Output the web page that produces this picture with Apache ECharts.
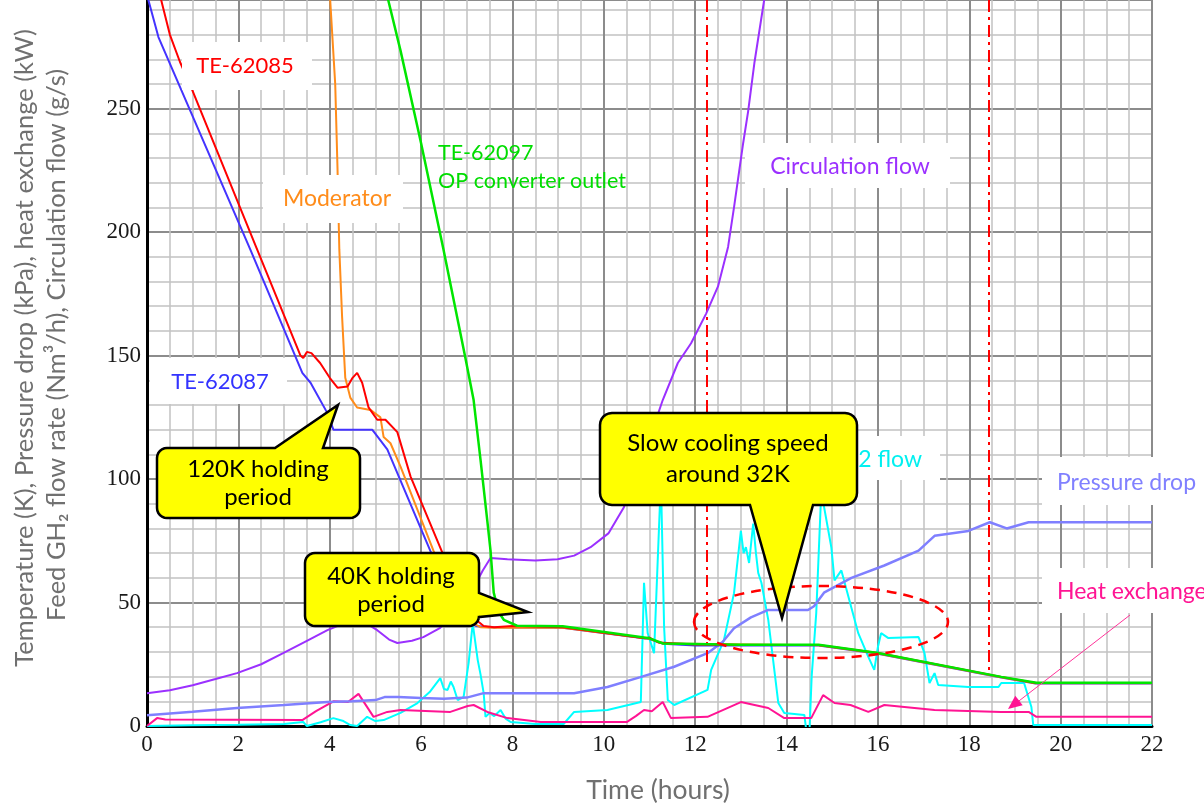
<!DOCTYPE html>
<html><head><meta charset="utf-8">
<script src="https://cdn.jsdelivr.net/npm/echarts@6/dist/echarts.min.js"></script>
<style>html,body{margin:0;padding:0;background:#fff}#c{width:1204px;height:804px}</style>
</head><body><div id="c"></div>
<script>
// ---- data: [time (h), value] ----
const te62085 = [[0.2,300],[0.31,294],[0.5,280],[0.72,269],[0.98,258],[2.41,193],[3.36,150],[3.42,149],[3.5,151.5],[3.6,151],[3.79,147],[4.0,141],[4.17,137],[4.39,137.5],[4.5,141],[4.6,143],[4.71,139],[4.85,129],[5.04,124],[5.22,124],[5.48,119],[5.77,101],[6.47,70],[7.0,50],[7.2,43],[7.37,40.5],[7.6,40],[8.0,40.5],[9.1,40],[10.9,35.5],[11.0,35.8],[11.2,33.8],[12.0,33],[13,32.8],[14.7,32.8],[16,29.6],[18.7,19.9],[19.45,17.4],[22,17.4]];
const te62087 = [[0,300],[0.03,294],[0.25,279],[2.26,193],[3.4,143],[3.58,139],[3.94,127],[4.08,120],[4.93,120],[5.26,112],[6.2,71],[6.6,55],[7.0,43],[7.2,40.5],[7.5,40],[9.1,39.8],[11.0,35.2],[11.3,33.3],[12,32.6],[14.7,32.6],[16,29.3],[18.7,19.6],[19.45,17.2],[22,17.2]];
const moderator = [[4.0,300],[4.01,294],[4.12,260],[4.17,226],[4.21,193],[4.27,166],[4.34,141],[4.45,133],[4.6,129],[4.89,128],[5.11,125],[5.18,117],[5.33,114.5],[5.55,105],[6.27,71],[6.8,50],[7.1,42],[7.3,40],[7.6,39.8],[9.1,39.8],[11,35.3],[11.3,33.4],[14.7,32.7],[16,29.4],[18.7,19.7],[19.45,17.3],[22,17.3]];
const te62097 = [[5.2,300],[5.28,294],[5.55,273.5],[6.0,236],[6.49,193],[6.97,149],[7.15,132],[7.3,108],[7.45,83],[7.52,71],[7.59,54],[7.7,46],[7.81,43],[8.1,40.6],[9.1,40.4],[11,35.5],[11.3,33.4],[13,32.9],[14.7,32.9],[16,29.6],[18.7,19.9],[19.47,17.5],[22,17.5]];
const circulationFlow = [[0,13.3],[0.5,14.5],[1,16.5],[1.5,19],[1.97,21.4],[2.5,25],[2.98,29.5],[3.5,34.5],[3.95,38.8],[4.3,41.5],[4.6,43],[4.8,41.5],[5.04,38.8],[5.3,35],[5.48,33.6],[5.8,34.5],[6.05,36],[6.4,39.5],[6.64,44],[6.9,49],[7.15,56],[7.35,63],[7.52,68],[7.89,67.5],[8.5,67],[8.99,67.5],[9.35,69],[9.71,72.4],[10.1,78],[10.44,88.6],[10.8,106],[11.05,119],[11.29,132],[11.62,147],[11.91,155],[12.24,167],[12.5,178],[12.72,194],[12.85,210],[13.05,236],[13.16,249],[13.3,269],[13.51,294],[13.55,300]];
const pressureDrop = [[0,4.4],[1,5.8],[1.97,7.3],[3,8.5],[3.95,9.7],[4.5,10],[5.0,10.5],[5.2,11.7],[5.5,11.7],[6,11.3],[6.5,11],[7.0,11.5],[7.37,13.3],[8,13.3],[9.35,13.3],[10.08,15.8],[10.8,19.8],[11.54,24],[12.27,29.5],[12.6,34],[12.85,39.6],[13.22,44],[13.6,47],[14.47,47],[14.6,48.5],[14.82,54],[15.42,60],[16.14,65],[16.89,71],[17.24,77],[17.98,79],[18.45,82.5],[18.82,80],[19.3,82.5],[22,82.5]];
const heatExchange = [[0,0],[0.22,3.2],[0.4,2.6],[3.4,2.4],[3.7,6],[4.08,10],[4.4,9.7],[4.63,13],[4.96,3.7],[5.26,5.7],[5.55,6.5],[6.64,5.7],[7.02,8.1],[7.15,8.5],[7.45,5.7],[7.89,3.2],[8.62,1.6],[10.5,1.6],[10.7,4],[10.88,6.5],[11.05,6],[11.29,9.7],[11.47,3.2],[12.27,3.7],[13.0,9.7],[13.6,7.3],[13.95,3.2],[14.54,3.2],[14.8,12.5],[15.05,9.3],[15.4,8.5],[15.79,5.7],[16.14,8.5],[17.24,6.5],[18.7,5.7],[19.3,5.7],[19.47,3.7],[22,3.7]];
const gh2Flow = [[0,0],[1,0.3],[2,0.5],[3,0.8],[3.42,1.6],[3.5,0],[3.8,1.5],[4.08,3.2],[4.3,2],[4.45,0.4],[4.6,0],[4.82,3.7],[5.0,2],[5.18,2.4],[5.55,5.3],[5.92,9.3],[6.2,14],[6.42,19.4],[6.5,15],[6.58,14.6],[6.65,18],[6.71,15.8],[6.8,10.5],[6.93,11.7],[7.04,25.5],[7.13,41.6],[7.24,26.7],[7.3,21],[7.37,13.3],[7.41,3.7],[7.5,5.3],[7.6,4],[7.74,6.5],[7.85,3],[7.96,1.6],[8.5,0.8],[9.12,0.8],[9.35,5.7],[10.08,6.5],[10.81,9.7],[10.88,58],[10.96,37.6],[11.1,29.5],[11.25,100],[11.32,40],[11.4,10.5],[11.54,8.5],[12.27,14.6],[12.35,22.7],[12.63,34.8],[12.85,53.8],[13.0,79],[13.06,70],[13.11,72.4],[13.18,66],[13.27,82],[13.33,70],[13.38,62],[13.45,58],[13.6,43],[13.82,9.3],[13.95,5.3],[14.39,4.5],[14.44,-3],[14.5,-3],[14.55,20],[14.65,45.7],[14.76,95],[14.98,72.4],[15.05,59],[15.2,63],[15.57,37.6],[15.79,28],[15.92,22.7],[16.0,32],[16.07,37.6],[16.23,35.6],[16.89,36],[17.02,29.5],[17.13,17.4],[17.24,21.4],[17.32,16.6],[17.98,15.8],[18.64,15.8],[18.7,17.4],[19.2,17.4],[19.36,7.7],[19.4,0.4],[22,0.4]];
const markerLines = [[12.26, 24], [18.43, 22.7]]; // [time, lower end]
const xTickStep = 2, yTickStep = 50, yMax = 294, xMax = 22;

const chart = echarts.init(document.getElementById('c'), null, {renderer:'canvas'});
const LBL = 'Lato, "Noto Sans", sans-serif';
function ln(name, data, color, w, z) {
  return {name, type:'line', data, showSymbol:false, symbol:'none', smooth:false, z,
    lineStyle:{color, width:w}, itemStyle:{color}, animation:false, clip:true};
}
const redSeries = ln('TE-62085', te62085, '#ff0000', 2, 8);
redSeries.markLine = {silent:true, symbol:['none','none'], label:{show:false}, animation:false,
  lineStyle:{color:'#ff0000', width:2, type:[12,5,3,5]},
  data: markerLines.map(m => [{coord:[m[0], yMax]}, {coord:[m[0], m[1]]}])};

const txt = (text, x, y, color, size, align, extra) => Object.assign({type:'text', x, y, z:100,
  style:{text, fill:color, font: size+'px '+LBL, align: align||'center', verticalAlign:'middle'}}, extra||{});
const box = (x, y, w, h) => ({type:'rect', z:100, shape:{x, y, width:w, height:h}, style:{fill:'#ffffff'}});

function arc(cx, cy, r, a0, a1) {
  const out = [];
  for (let i = 0; i <= 6; i++) {
    const a = (a0 + (a1 - a0) * i / 6) * Math.PI / 180;
    out.push([cx + r * Math.cos(a), cy + r * Math.sin(a)]);
  }
  return out;
}
function callout(x, y, w, h, r, edge, ptr) {
  let p = [];
  p = p.concat(arc(x + r, y + r, r, 180, 270));
  if (edge === 'top') p = p.concat(ptr);
  p = p.concat(arc(x + w - r, y + r, r, 270, 360));
  if (edge === 'right') p = p.concat(ptr);
  p = p.concat(arc(x + w - r, y + h - r, r, 0, 90));
  if (edge === 'bottom') p = p.concat(ptr);
  p = p.concat(arc(x + r, y + h - r, r, 90, 180));
  return {type:'polygon', z:101, shape:{points:p}, style:{fill:'#ffff00', stroke:'#000', lineWidth:2.5, lineJoin:'miter'}};
}

const graphics = [
  box(182,42,130,48), txt('TE-62085',245,66,'#ff0000',22),
  box(263,175,140,48), txt('Moderator',337,199,'#ff8c1a',23),
  box(150,358,137,46), txt('TE-62087',220,382,'#3333ff',22),
  txt('TE-62097',438,153,'#00dd00',21.5,'left'), txt('OP converter outlet',438,181,'#00dd00',21.5,'left'),
  box(745,143,205,45), txt('Circulation flow',850,167,'#9b30ff',23),
  box(1042,457,162,48), txt('Pressure drop',1057,483,'#8080ff',23,'left'),
  box(1042,568,162,45), txt('Heat exchange',1057,592,'#ff1493',23,'left'),
  box(830,436,110,44), txt('GH2 flow',922,460,'#00f0f0',23,'right'),
  {type:'ellipse', z:100, shape:{cx:821, cy:622, rx:127, ry:36}, style:{fill:'none', stroke:'#ff0000', lineWidth:2.5, lineDash:[10,7]}},
  {type:'line', z:100, shape:{x1:1130,y1:615,x2:1015,y2:704}, style:{stroke:'#ff3399', lineWidth:1}},
  {type:'polygon', z:100, shape:{points:[[1008,709],[1022.7,705.2],[1015.3,695.8]]}, style:{fill:'#ff1493'}},
  callout(157,448,203,70,10,'top',[[275,448],[338,405],[323,448]]),
  txt('120K holding',258,469,'#000',24, 'center', {z:102}), txt('period',258,497,'#000',24,'center',{z:102}),
  callout(305,553,174,73,10,'right',[[479,593],[528,612],[479,617]]),
  txt('40K holding',391,576,'#000',24,'center',{z:102}), txt('period',391,604,'#000',24,'center',{z:102}),
  callout(600,413,257,92,12,'bottom',[[813,505],[782,618],[750,505]]),
  txt('Slow cooling speed',728,443,'#000',24,'center',{z:102}), txt('around 32K',728,474,'#000',24,'center',{z:102}),
  txt('Temperature (K), Pressure drop (kPa), heat exchange (kW)',25,348,'#707070',25.5,'center',{rotation:Math.PI/2}),
  txt('Feed GH₂ flow rate (Nm³/h), Circulation flow (g/s)',57,345,'#707070',25.5,'center',{rotation:Math.PI/2}),
  txt('Time (hours)',658,790,'#707070',26.5)
];

const option = {
  backgroundColor:'#ffffff',
  animation:false,
  grid:{left:147, right:52, top:-2, bottom:78, containLabel:false},
  xAxis:{type:'value', min:0, max:xMax, interval:xTickStep,
    axisLine:{show:true, onZero:false, lineStyle:{color:'#000', width:3}},
    axisTick:{show:false},
    axisLabel:{color:'#1a1a1a', fontFamily:'"Liberation Serif", serif', fontSize:23, margin:7},
    splitLine:{show:true, lineStyle:{color:'#8c8c8c', width:2}},
    minorTick:{show:false, splitNumber:4},
    minorSplitLine:{show:true, lineStyle:{color:'#c2c2c2', width:1.5}}},
  yAxis:[{type:'value', min:0, max:yMax, interval:yTickStep,
    axisLine:{show:true, onZero:false, lineStyle:{color:'#000', width:2.5}},
    axisTick:{show:false},
    axisLabel:{color:'#1a1a1a', fontFamily:'"Liberation Serif", serif', fontSize:23, margin:6,
      formatter: v => (v % yTickStep === 0 ? String(v) : '')},
    splitLine:{show:true, lineStyle:{color:'#8c8c8c', width:2}},
    minorTick:{show:false, splitNumber:5},
    minorSplitLine:{show:true, lineStyle:{color:'#c2c2c2', width:1.5}}},
   {type:'value', min:0, max:yMax, interval:yTickStep, position:'right',
    axisLine:{show:true, lineStyle:{color:'#000', width:3}},
    axisTick:{show:false}, axisLabel:{show:false}, splitLine:{show:false}}],
  series:[
    ln('Feed GH2 flow', gh2Flow, '#00ffff', 2, 2),
    ln('Heat exchange', heatExchange, '#ff1493', 2, 3),
    ln('Pressure drop', pressureDrop, '#7f7fff', 2.5, 4),
    ln('Circulation flow', circulationFlow, '#9b30ff', 2, 5),
    ln('TE-62087', te62087, '#4433ff', 2, 6),
    ln('Moderator', moderator, '#ff8c1a', 2, 7),
    redSeries,
    ln('TE-62097', te62097, '#00e600', 2.5, 9)
  ],
  graphic:{elements:graphics}
};
chart.setOption(option);
</script></body></html>
